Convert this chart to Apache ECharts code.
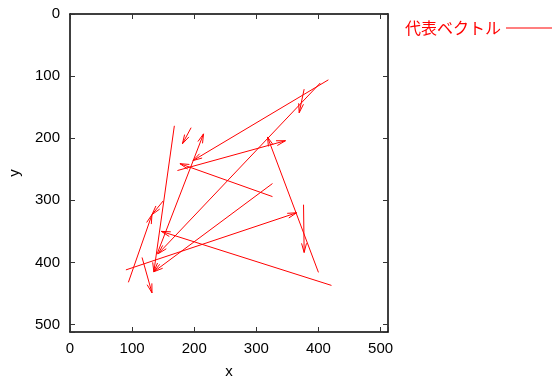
<!DOCTYPE html>
<html>
<head>
<meta charset="utf-8">
<script src="https://cdn.jsdelivr.net/npm/echarts@6/dist/echarts.min.js"></script>
<style>
  html, body { margin: 0; padding: 0; background: #fff; }
  #chart { width: 553px; height: 381px; }
</style>
</head>
<body>
<div id="chart"></div>
<script>
  // vector tails (x0, y0) and tips (x1, y1), image coordinates
  const x0 = [416, 403, 377, 400, 173, 326, 195, 140, 168, 421, 94, 150, 116, 90, 326, 376];
  const y0 = [106, 111, 121, 416, 252, 294, 183, 387, 180, 437, 432, 301, 392, 412, 273, 307];
  const x1 = [198, 142, 369, 318, 347, 177, 181, 215, 135, 147, 132, 132, 132, 365, 135, 377];
  const y1 = [236, 386, 159, 198, 204, 241, 209, 193, 415, 350, 323, 323, 449, 320, 415, 384];
  const tickValues = [0, 100, 200, 300, 400, 500];

  const vectors = x0.map((v, i) => [v, y0[i], x1[i], y1[i]]);

  const chart = echarts.init(document.getElementById('chart'));

  const tickFormatter = (value) => tickValues.includes(value) ? String(value) : '';
  const lineColor = '#000';

  const renderArrow = function(params, api) {
    const p0 = api.coord([api.value(0), api.value(1)]);
    const p1 = api.coord([api.value(2), api.value(3)]);
    const ang = Math.atan2(p1[1] - p0[1], p1[0] - p0[0]);
    const len = 9.5, spread = Math.PI / 12;
    const b1 = [p1[0] - len * Math.cos(ang - spread), p1[1] - len * Math.sin(ang - spread)];
    const b2 = [p1[0] - len * Math.cos(ang + spread), p1[1] - len * Math.sin(ang + spread)];
    const style = { stroke: '#ff0000', lineWidth: 1, fill: null };
    return {
      type: 'group',
      children: [
        { type: 'line', shape: { x1: p0[0], y1: p0[1], x2: p1[0], y2: p1[1] }, style: style },
        { type: 'polyline', shape: { points: [b1, p1, b2] }, style: style }
      ]
    };
  };

  const option = {
    animation: false,
    grid: {
      left: 70,
      top: 14,
      width: 318,
      height: 318,
      outerBoundsMode: 'none'
    },
    legend: {
      left: 400,
      top: 15,
      align: 'right',
      icon: 'rect',
      itemWidth: 46,
      itemHeight: 1.2,
      data: ['代表ベクトル'],
      textStyle: {
        color: '#ff0000',
        fontSize: 16,
        fontFamily: 'Noto Sans CJK JP'
      }
    },
    xAxis: [
      {
        type: 'value',
        min: 0,
        max: 512,
        interval: 100,
        position: 'bottom',
        name: 'x',
        nameLocation: 'middle',
        nameGap: 32,
        nameTextStyle: { fontSize: 15, color: '#000', fontFamily: 'Liberation Sans' },
        axisLine: { onZero: false, lineStyle: { color: lineColor, width: 1.5 } },
        axisTick: { inside: true, length: 5, lineStyle: { color: '#333' } },
        axisLabel: {
          margin: 9,
          fontSize: 15,
          color: '#000',
          fontFamily: 'Liberation Sans',
          formatter: tickFormatter
        },
        splitLine: { show: false }
      },
      {
        type: 'value',
        min: 0,
        max: 512,
        interval: 100,
        position: 'top',
        axisLine: { onZero: false, lineStyle: { color: lineColor, width: 1.5 } },
        axisTick: { inside: true, length: 5, lineStyle: { color: '#333' } },
        axisLabel: { show: false },
        splitLine: { show: false }
      }
    ],
    yAxis: [
      {
        type: 'value',
        inverse: true,
        min: 0,
        max: 512,
        interval: 100,
        position: 'left',
        name: 'y',
        nameLocation: 'middle',
        nameGap: 48,
        nameRotate: 90,
        nameTextStyle: { fontSize: 15, color: '#000', fontFamily: 'Liberation Sans' },
        axisLine: { onZero: false, lineStyle: { color: lineColor, width: 1.5 } },
        axisTick: { inside: true, length: 5, lineStyle: { color: '#333' } },
        axisLabel: {
          margin: 10,
          fontSize: 15,
          color: '#000',
          fontFamily: 'Liberation Sans',
          formatter: tickFormatter
        },
        splitLine: { show: false }
      },
      {
        type: 'value',
        inverse: true,
        min: 0,
        max: 512,
        interval: 100,
        position: 'right',
        axisLine: { onZero: false, lineStyle: { color: lineColor, width: 1.5 } },
        axisTick: { inside: true, length: 5, lineStyle: { color: '#333' } },
        axisLabel: { show: false },
        splitLine: { show: false }
      }
    ],
    series: [
      {
        name: '代表ベクトル',
        type: 'custom',
        xAxisIndex: 0,
        yAxisIndex: 0,
        itemStyle: { color: '#ff0000' },
        renderItem: renderArrow,
        data: vectors,
        clip: true
      }
    ]
  };

  chart.setOption(option);
  window.addEventListener('resize', () => chart.resize());
</script>
</body>
</html>
